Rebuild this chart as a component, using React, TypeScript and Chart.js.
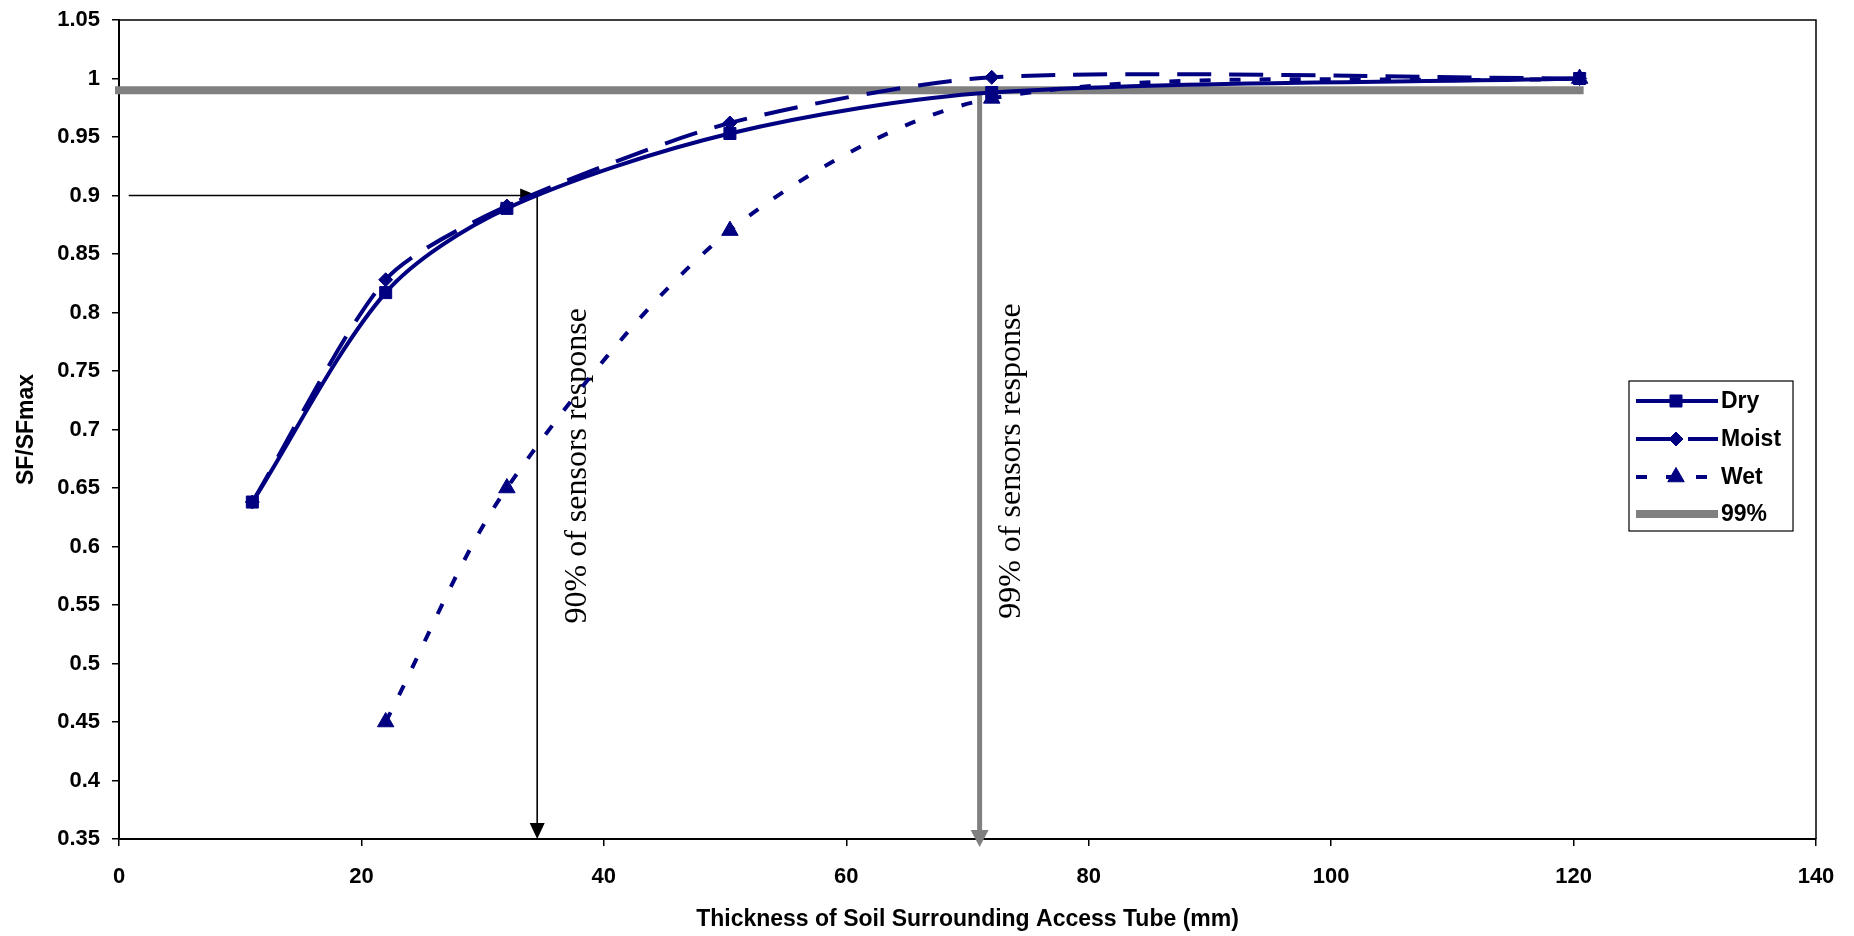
import React, { useEffect, useRef } from 'react';
import { Chart, registerables } from 'chart.js';

Chart.register(...registerables);

// ---- data ----
const dryX = [11, 22, 32, 50.4, 72, 120.5];
const dryY = [0.638, 0.817, 0.889, 0.953, 0.988, 1.0];
const moistX = [11, 22, 32, 50.4, 72, 120.5];
const moistY = [0.638, 0.828, 0.891, 0.962, 1.001, 1.0];
const wetX = [22, 32, 50.4, 72, 120.5];
const wetY = [0.45, 0.65, 0.87, 0.983, 1.0];
const line99X = [0, 120.5];
const line99Y = [0.99, 0.99];

const xTickValues = [0, 20, 40, 60, 80, 100, 120, 140];
const xTickLabels = ['0', '20', '40', '60', '80', '100', '120', '140'];
const yTickValues = [0.35, 0.4, 0.45, 0.5, 0.55, 0.6, 0.65, 0.7, 0.75, 0.8, 0.85, 0.9, 0.95, 1.0, 1.05];
const yTickLabels = ['0.35', '0.4', '0.45', '0.5', '0.55', '0.6', '0.65', '0.7', '0.75', '0.8', '0.85', '0.9', '0.95', '1', '1.05'];

const seriesNames = ['Dry', 'Moist', 'Wet', '99%'];

// annotation values (data units)
const arrow90 = { x: 34.5, y: 0.9, xStart: 0.8 };
const arrow99 = { x: 71, y: 0.99 };
const note90 = { text: '90% of sensors response', x: 37.8, y: 0.669 };
const note99 = { text: '99% of sensors response', x: 73.6, y: 0.673 };

const NAVY = '#000080';
const GRAY = '#808080';
const SANS = '"Liberation Sans", Arial, sans-serif';
const SERIF = '"Liberation Serif", "Times New Roman", serif';

function toPts(xs: number[], ys: number[]) {
  return xs.map((x, i) => ({ x, y: ys[i] }));
}

function drawArrowHead(ctx: CanvasRenderingContext2D, tipX: number, tipY: number, dir: 'down' | 'right', len: number, wid: number, color: string) {
  ctx.save();
  ctx.fillStyle = color;
  ctx.beginPath();
  if (dir === 'down') {
    ctx.moveTo(tipX, tipY);
    ctx.lineTo(tipX - wid / 2, tipY - len);
    ctx.lineTo(tipX + wid / 2, tipY - len);
  } else {
    ctx.moveTo(tipX, tipY);
    ctx.lineTo(tipX - len, tipY - wid / 2);
    ctx.lineTo(tipX - len, tipY + wid / 2);
  }
  ctx.closePath();
  ctx.fill();
  ctx.restore();
}

const annotationPlugin = {
  id: 'annotations',
  beforeDatasetsDraw(chart: any) {
    const { ctx, chartArea, scales } = chart;
    const xs = scales.x;
    const ys = scales.y;
    ctx.save();
    // black arrows
    const ax = xs.getPixelForValue(arrow90.x);
    const ay = ys.getPixelForValue(arrow90.y);
    const ax0 = xs.getPixelForValue(arrow90.xStart);
    ctx.strokeStyle = '#000';
    ctx.lineWidth = 1.6;
    ctx.beginPath();
    ctx.moveTo(ax0, ay);
    ctx.lineTo(ax - 14, ay);
    ctx.stroke();
    drawArrowHead(ctx, ax, ay, 'right', 17, 14, '#000');
    ctx.beginPath();
    ctx.moveTo(ax, ay);
    ctx.lineTo(ax, chartArea.bottom - 14);
    ctx.stroke();
    drawArrowHead(ctx, ax, chartArea.bottom, 'down', 16, 15, '#000');

    // gray arrow
    const gx = xs.getPixelForValue(arrow99.x);
    const gy = ys.getPixelForValue(arrow99.y);
    ctx.strokeStyle = GRAY;
    ctx.lineWidth = 5;
    ctx.beginPath();
    ctx.moveTo(gx, gy);
    ctx.lineTo(gx, chartArea.bottom - 8);
    ctx.stroke();
    drawArrowHead(ctx, gx, chartArea.bottom + 8, 'down', 17, 18, GRAY);

    // rotated notes
    ctx.fillStyle = '#000';
    ctx.font = `32px ${SERIF}`;
    ctx.textAlign = 'center';
    ctx.textBaseline = 'middle';
    for (const n of [note90, note99]) {
      ctx.save();
      ctx.translate(xs.getPixelForValue(n.x), ys.getPixelForValue(n.y));
      ctx.rotate(-Math.PI / 2);
      ctx.fillText(n.text, 0, 0);
      ctx.restore();
    }
    ctx.restore();
  },
  afterDraw(chart: any) {
    const { ctx, chartArea } = chart;
    ctx.save();
    // frame (top and right)
    ctx.strokeStyle = '#000';
    ctx.lineWidth = 1.5;
    ctx.beginPath();
    ctx.moveTo(chartArea.left, chartArea.top);
    ctx.lineTo(chartArea.right, chartArea.top);
    ctx.lineTo(chartArea.right, chartArea.bottom);
    ctx.stroke();

    // legend
    const bx = 1629, by = 381, bw = 164, bh = 150;
    ctx.fillStyle = '#fff';
    ctx.fillRect(bx, by, bw, bh);
    ctx.strokeStyle = '#000';
    ctx.lineWidth = 1.2;
    ctx.strokeRect(bx, by, bw, bh);
    const rows = [401, 439, 477, 514];
    const ds = chart.data.datasets;
    ds.forEach((d: any, i: number) => {
      const y = rows[i];
      const x0 = 1636, x1 = 1718, xm = 1676;
      ctx.save();
      ctx.strokeStyle = d.borderColor;
      ctx.lineWidth = d.borderWidth;
      ctx.setLineDash(d.borderDash || []);
      ctx.beginPath();
      ctx.moveTo(x0, y);
      ctx.lineTo(x1, y);
      ctx.stroke();
      ctx.setLineDash([]);
      if (d.pointStyle && d.pointRadius > 0) {
        ctx.fillStyle = d.pointBackgroundColor;
        ctx.strokeStyle = d.pointBorderColor;
        ctx.lineWidth = 1;
        const r = d.pointRadius;
        ctx.beginPath();
        if (d.pointStyle === 'rect') {
          const s = Math.SQRT1_2 * r;
          ctx.rect(xm - s, y - s, 2 * s, 2 * s);
        } else if (d.pointStyle === 'rectRot') {
          ctx.moveTo(xm - r, y);
          ctx.lineTo(xm, y - r);
          ctx.lineTo(xm + r, y);
          ctx.lineTo(xm, y + r);
          ctx.closePath();
        } else if (d.pointStyle === 'triangle') {
          ctx.moveTo(xm, y - r);
          ctx.lineTo(xm + r * 0.866, y + r * 0.5);
          ctx.lineTo(xm - r * 0.866, y + r * 0.5);
          ctx.closePath();
        }
        ctx.fill();
        ctx.stroke();
      }
      ctx.restore();
      ctx.fillStyle = '#000';
      ctx.font = `bold 23px ${SANS}`;
      ctx.textAlign = 'left';
      ctx.textBaseline = 'middle';
      ctx.fillText(d.label, 1721, y + 1);
    });
    ctx.restore();
  },
};

export default function App() {
  const ref = useRef<HTMLCanvasElement | null>(null);
  useEffect(() => {
    if (!ref.current) return;
    const common = {
      borderColor: NAVY,
      backgroundColor: NAVY,
      pointBackgroundColor: NAVY,
      pointBorderColor: NAVY,
      pointBorderWidth: 1,
      borderWidth: 4,
      tension: 0.3,
      fill: false,
    };
    const chart = new Chart(ref.current, {
      type: 'scatter',
      data: {
        datasets: [
          { ...common, label: seriesNames[0], data: toPts(dryX, dryY), showLine: true, pointStyle: 'rect', pointRadius: 8.5 },
          { ...common, label: seriesNames[1], data: toPts(moistX, moistY), showLine: true, pointStyle: 'rectRot', pointRadius: 7, borderDash: [34, 18], tension: 0.25 },
          { ...common, label: seriesNames[2], data: toPts(wetX, wetY), showLine: true, pointStyle: 'triangle', pointRadius: 9.5, borderDash: [11, 19] },
          {
            label: seriesNames[3], data: toPts(line99X, line99Y), showLine: true,
            borderColor: GRAY, backgroundColor: GRAY, borderWidth: 8, pointRadius: 0,
            borderCapStyle: 'square', tension: 0, clip: false, pointStyle: false,
          },
        ] as any,
      },
      options: {
        animation: false,
        responsive: false,
        maintainAspectRatio: false,
        layout: { padding: { top: 20, right: 38, left: 0, bottom: 0 } },
        plugins: { legend: { display: false }, tooltip: { enabled: false } },
        scales: {
          x: {
            type: 'linear',
            min: 0,
            max: 140,
            afterFit: (s: any) => { s.height = 97; s.paddingLeft = 0; s.paddingRight = 0; },
            afterBuildTicks: (s: any) => { s.ticks = xTickValues.map((v) => ({ value: v })); },
            ticks: {
              padding: 18,
              color: '#000',
              font: { family: SANS, size: 22, weight: 'bold' },
              callback: (v: any) => { const i = xTickValues.indexOf(Number(v)); return i >= 0 ? xTickLabels[i] : ''; },
            },
            grid: { drawOnChartArea: false, drawTicks: true, tickLength: 7, color: '#000', lineWidth: 1.5 },
            border: { color: '#000', width: 2 },
            title: {
              display: true,
              text: 'Thickness of Soil Surrounding Access Tube (mm)',
              color: '#000',
              font: { family: SANS, size: 23, weight: 'bold', lineHeight: 1.2 },
              padding: { top: 0, bottom: 3 },
            },
          },
          y: {
            type: 'linear',
            min: 0.35,
            max: 1.05,
            afterFit: (s: any) => { s.width = 119; s.paddingTop = 0; s.paddingBottom = 0; },
            afterBuildTicks: (s: any) => { s.ticks = yTickValues.map((v) => ({ value: v })); },
            ticks: {
              padding: 12,
              color: '#000',
              font: { family: SANS, size: 22, weight: 'bold' },
              callback: (v: any) => {
                let best = 0;
                yTickValues.forEach((t, i) => { if (Math.abs(t - Number(v)) < Math.abs(yTickValues[best] - Number(v))) best = i; });
                return yTickLabels[best];
              },
            },
            grid: { drawOnChartArea: false, drawTicks: true, tickLength: 7, color: '#000', lineWidth: 1.5 },
            border: { color: '#000', width: 2 },
            title: {
              display: true,
              text: 'SF/SFmax',
              color: '#000',
              font: { family: SANS, size: 23, weight: 'bold', lineHeight: 1.2 },
              padding: { top: 13, bottom: 0 },
            },
          },
        },
      } as any,
      plugins: [annotationPlugin],
    });
    return () => chart.destroy();
  }, []);

  return (
    <div style={{ position: 'fixed', left: 0, top: 0, width: 1854, height: 936, background: '#fff' }}>
      <canvas ref={ref} width={1854} height={936} style={{ width: 1854, height: 936, display: 'block' }} />
    </div>
  );
}
